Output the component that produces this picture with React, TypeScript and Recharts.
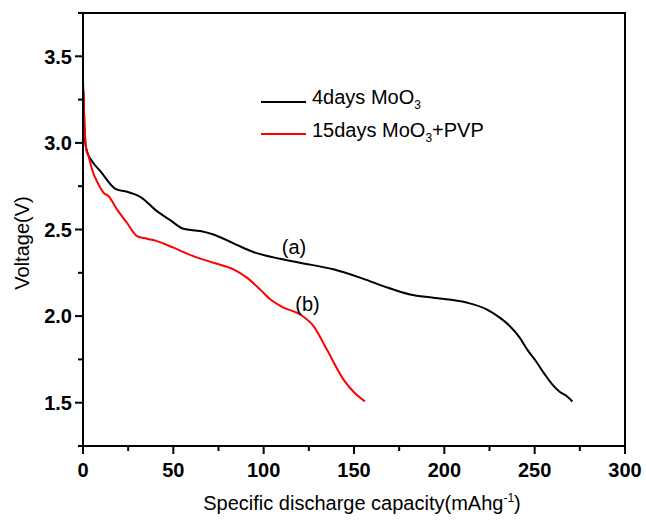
import { LineChart, Line, XAxis, YAxis, ReferenceArea, ReferenceDot } from 'recharts';

// capacity (mAh/g) and voltage (V)
const capA = [0, 0.8, 1.3, 2.5, 5.0, 9.6, 17.9, 25.2, 31.7, 40.9, 48.3, 55.6, 64.9, 72.2, 83.3, 94.3, 109.1, 120.1, 138.6, 153.3, 166.2, 181, 193.9, 212.3, 223.4, 230.7, 236.2, 241.7, 246, 251, 255.5, 260.2, 264, 267.5, 270.9];
const voltA = [3.35, 3.1, 3.0, 2.943, 2.894, 2.837, 2.735, 2.715, 2.689, 2.606, 2.554, 2.504, 2.491, 2.471, 2.42, 2.37, 2.331, 2.308, 2.27, 2.222, 2.173, 2.125, 2.106, 2.078, 2.039, 1.991, 1.943, 1.876, 1.805, 1.735, 1.665, 1.6, 1.562, 1.54, 1.507];

const capB = [0.3, 0.8, 1.3, 1.8, 3.1, 5, 8.6, 11.4, 14.2, 18.8, 24.3, 29.9, 35.4, 40.9, 50.1, 61.1, 72.2, 83.3, 90.7, 98, 103.6, 111, 120.1, 127.5, 134.9, 144.1, 150, 156.1];
const voltB = [3.3, 3.1, 3.019, 2.96, 2.923, 2.846, 2.76, 2.712, 2.692, 2.616, 2.539, 2.462, 2.447, 2.433, 2.395, 2.346, 2.308, 2.27, 2.222, 2.154, 2.097, 2.049, 2.01, 1.943, 1.808, 1.635, 1.56, 1.507];

const xTicks = [0, 25, 50, 75, 100, 125, 150, 175, 200, 225, 250, 275, 300];
const yTicks = [1.25, 1.5, 1.75, 2.0, 2.25, 2.5, 2.75, 3.0, 3.25, 3.5, 3.75];

const seriesA = capA.map((x, i) => ({ x, v: voltA[i] }));
const seriesB = capB.map((x, i) => ({ x, v: voltB[i] }));

const FONT = '"Liberation Sans", Arial, sans-serif';

const isMajorX = (v: number) => v % 50 === 0;
const isMajorY = (v: number) => Math.abs(v * 2 - Math.round(v * 2)) < 1e-6;

const XTick = ({ x, y, payload }: any) => {
  const major = isMajorX(payload.value);
  return (
    <g>
      <line x1={x} y1={y} x2={x} y2={y + (major ? 8 : 5)} stroke='#000' strokeWidth={2} />
      {major && (
        <text x={x} y={y + 31} textAnchor='middle' fontFamily={FONT} fontWeight='bold' fontSize={20} fill='#000'>
          {payload.value}
        </text>
      )}
    </g>
  );
};

const YTick = ({ x, y, payload }: any) => {
  const major = isMajorY(payload.value);
  return (
    <g>
      <line x1={x} y1={y} x2={x - (major ? 8 : 5)} y2={y} stroke='#000' strokeWidth={2} />
      {major && (
        <text x={x - 11} y={y} dy='0.36em' textAnchor='end' fontFamily={FONT} fontWeight='bold' fontSize={20} fill='#000'>
          {payload.value.toFixed(1)}
        </text>
      )}
    </g>
  );
};

const legendRows = [
  { color: '#000', label: <>4days MoO<sub style={{ fontSize: 12 }}>3</sub></> },
  { color: '#ff0000', label: <>15days MoO<sub style={{ fontSize: 12 }}>3</sub>+PVP</> },
];

const LegendBox = () => (
  <div style={{ position: 'absolute', left: 261, top: 85.4, fontFamily: FONT, fontSize: 20, color: '#000' }}>
    {legendRows.map((r, i) => (
      <div key={i} style={{ display: 'flex', alignItems: 'center', height: 32.6, lineHeight: '23px' }}>
        <div style={{ width: 45, height: 2, background: r.color, marginRight: 6 }} />
        <span style={{ whiteSpace: 'nowrap' }}>{r.label}</span>
      </div>
    ))}
  </div>
);

export default function App() {
  return (
    <div style={{ position: 'absolute', left: 0, top: 0, width: 646, height: 522, background: '#fff' }}>
      <LineChart width={646} height={522} margin={{ top: 13, right: 21, left: 0, bottom: 0 }}>
        <XAxis
          dataKey='x'
          type='number'
          domain={[0, 300]}
          ticks={xTicks}
          interval={0}
          height={76}
          axisLine={{ stroke: '#000', strokeWidth: 2 }}
          tickLine={false}
          tickSize={0}
          tickMargin={0}
          tick={<XTick />}
          label={{
            content: ({ viewBox }: any) => (
              <text
                x={viewBox.x + viewBox.width / 2 + 8}
                y={viewBox.y + 63.5}
                textAnchor='middle'
                fontFamily={FONT}
                fontSize={20}
                fill='#000'
              >
                Specific discharge capacity(mAhg
                <tspan dy={-8} fontSize={12}>-1</tspan>
                <tspan dy={8}>)</tspan>
              </text>
            ),
          }}
        />
        <YAxis
          dataKey='v'
          type='number'
          domain={[1.25, 3.75]}
          ticks={yTicks}
          interval={0}
          width={83}
          axisLine={{ stroke: '#000', strokeWidth: 2 }}
          tickLine={false}
          tickSize={0}
          tickMargin={0}
          tick={<YTick />}
          label={{
            content: () => (
              <text
                x={29}
                y={243}
                transform='rotate(-90, 29, 243)'
                textAnchor='middle'
                fontFamily={FONT}
                fontSize={20}
                fill='#000'
              >
                Voltage(V)
              </text>
            ),
          }}
        />
        <ReferenceArea x1={0} x2={300} y1={1.25} y2={3.75} ifOverflow='visible' fill='none' stroke='#000' strokeWidth={2} />
        <Line data={seriesA} dataKey='v' type='monotone' stroke='#000' strokeWidth={2} dot={false} isAnimationActive={false} />
        <Line data={seriesB} dataKey='v' type='monotone' stroke='#ff0000' strokeWidth={2} dot={false} isAnimationActive={false} />
        <ReferenceDot
          x={116.8}
          y={2.402}
          r={0}
          fill='none'
          stroke='none'
          label={{ value: '(a)', position: 'center', fontSize: 20, fill: '#000', fontFamily: FONT }}
        />
        <ReferenceDot
          x={124.3}
          y={2.068}
          r={0}
          fill='none'
          stroke='none'
          label={{ value: '(b)', position: 'center', fontSize: 20, fill: '#000', fontFamily: FONT }}
        />
      </LineChart>
      <LegendBox />
    </div>
  );
}
